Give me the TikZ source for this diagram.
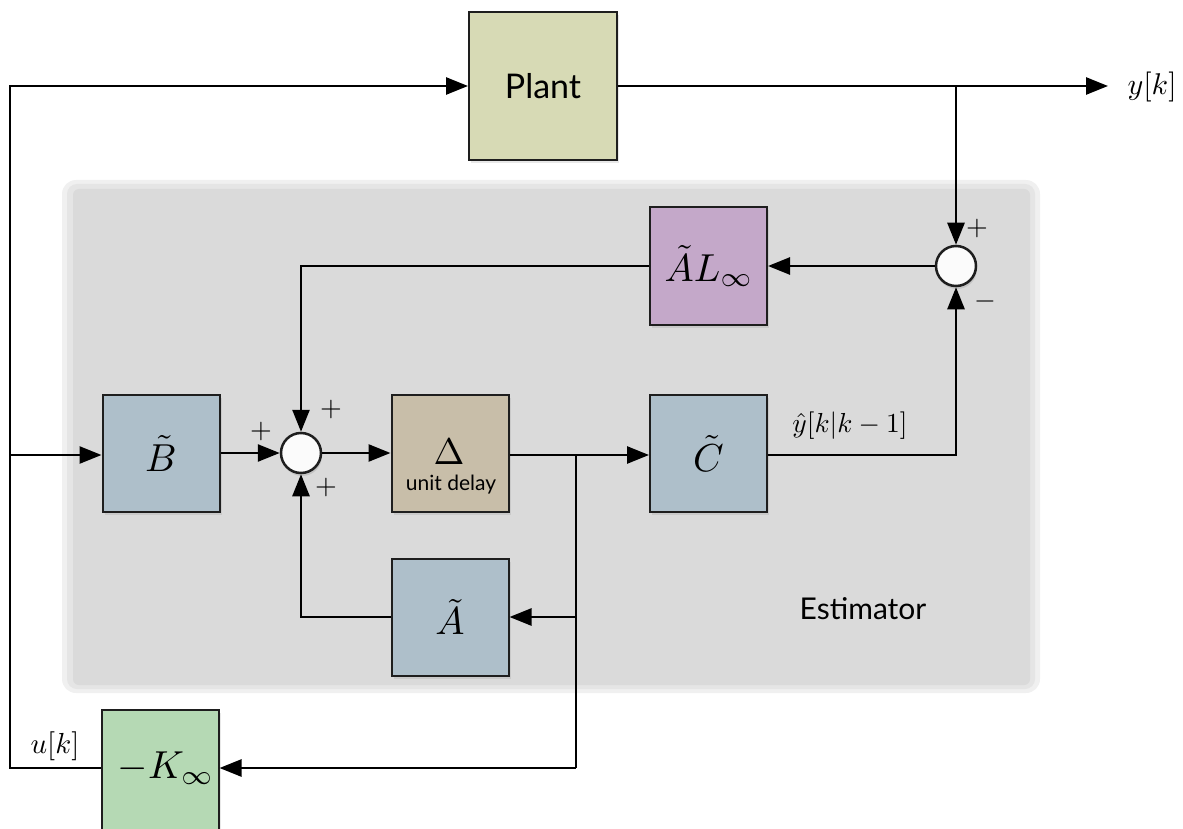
\documentclass[tikz,border=0pt]{standalone}
\usepackage{fontspec}
\newfontfamily\labelsans{Lato}
\usetikzlibrary{arrows.meta,shadows}

\definecolor{plantfill}{RGB}{215,218,181}
\definecolor{gainfill}{RGB}{196,168,201}
\definecolor{matfill}{RGB}{174,191,202}
\definecolor{delayfill}{RGB}{200,190,169}
\definecolor{kfill}{RGB}{181,217,180}
\definecolor{estfill}{RGB}{218,218,218}
\definecolor{edge}{RGB}{30,30,30}

\tikzset{
  blk/.style={draw=edge, line width=2pt, minimum width=117pt, minimum height=117pt,
    inner sep=0pt, drop shadow={opacity=0.18, shadow xshift=2pt, shadow yshift=-3pt}},
  sumnode/.style={circle, draw=edge, line width=2.5pt, fill=white!97!gray,
    minimum size=40pt, inner sep=0pt,
    drop shadow={opacity=0.25, shadow xshift=1pt, shadow yshift=-3pt}},
  wire/.style={line width=2.6pt, draw=black},
  arr/.style={wire, -{Triangle[length=22pt,width=17pt]}},
  sign/.style={scale=2.8, inner sep=0pt},
  mathlbl/.style={scale=3.9, inner sep=0pt},
}

\begin{document}
\begin{tikzpicture}[x=1pt, y=-1pt]
\useasboundingbox (0,0) rectangle (1183,829);

% estimator background with a soft edge
\fill[estfill!40!white, rounded corners=14pt] (62,180) rectangle (1040,693);
\fill[estfill!70!white, rounded corners=10pt] (67,184) rectangle (1035,689);
\fill[estfill, rounded corners=6pt] (73,189) rectangle (1030,685);
\node[font=\labelsans\fontsize{30}{30}\selectfont, inner sep=0pt] (estlbl) at (863,609) {Estimator};

% blocks
\node[blk, fill=plantfill, minimum width=148pt, minimum height=148pt,
      font=\labelsans\fontsize{34}{34}\selectfont] (plant) at (543,86) {Plant};
\node[blk, fill=gainfill] (AL) at (708.5,266) {};
\node[mathlbl] (ALtxt) at (709,266) {$\tilde{A}L_\infty$};
\node[blk, fill=matfill] (Bt) at (161,453.5) {};
\node[mathlbl] (Bttxt) at (Bt) {$\tilde{B}$};
\node[blk, fill=delayfill] (delay) at (450,453.5) {};
\node[mathlbl, scale=0.95] (deltxt) at (449,452) {$\Delta$};
\node[inner sep=0pt, font=\labelsans\fontsize{21}{21}\selectfont] (deltxt2) at (451,485) {unit delay};
\node[blk, fill=matfill] (Ct) at (708.5,453.5) {};
\node[mathlbl] (Cttxt) at (Ct) {$\tilde{C}$};
\node[blk, fill=matfill] (At) at (450,617) {};
\node[mathlbl] (Attxt) at (At) {$\tilde{A}$};
\node[blk, fill=kfill, minimum height=120pt] (K) at (160,770) {};
\node[mathlbl] (Ktxt) at (166,768) {$-K_\infty$};

% summing junctions
\node[sumnode] (sum) at (301,453) {};
\node[sumnode] (sumy) at (956,266) {};

% signal labels
\coordinate (yend) at (1108,86);
\node[inner sep=0pt, anchor=west, scale=3.0] (ylab) at (1127,87) {$y[k]$};
\node[inner sep=0pt, scale=2.9] (ulab) at (55,746) {$u[k]$};
\node[inner sep=0pt, scale=2.75] (yhat) at (850,426) {$\hat{y}[k|k-1]$};

\node[sign] (s1) at (261,431) {$+$};
\node[sign] (s2) at (331,409) {$+$};
\node[sign] (s3) at (326,487) {$+$};
\node[sign] (s4) at (977,228) {$+$};
\node[sign] (s5) at (985,301) {$-$};

% connection points
\coordinate (ltop) at (10,86);
\coordinate (lmid) at (10,455);
\coordinate (lbot) at (10,768);
\coordinate (tap) at (576,455);
\coordinate (tapd) at (576,768);
\coordinate (ytap) at (956,86);

% wiring
\draw[arr] (K.west |- lbot) -- (lbot) -- (ltop) -- (plant.west);
\draw[arr] (lmid) -- (Bt.west |- lmid);
\draw[arr] (plant.east) -- (yend);
\draw[arr] (ytap) -- (sumy.north);
\draw[arr] (sumy.west) -- (AL.east);
\draw[arr] (AL.west) -| (sum.north);
\draw[arr] (Bt.east |- sum) -- (sum.west);
\draw[arr] (sum.east) -- (delay.west |- sum);
\draw[arr] (delay.east |- tap) -- (Ct.west |- tap);
\draw[arr] (Ct.east |- tap) -| (sumy.south);
\draw[wire] (tap) -- (tapd);
\draw[arr] (tap |- At.east) -- (At.east);
\draw[arr] (At.west) -| (sum.south);
\draw[arr] (tapd) -- (K.east |- tapd);
\end{tikzpicture}
\end{document}
